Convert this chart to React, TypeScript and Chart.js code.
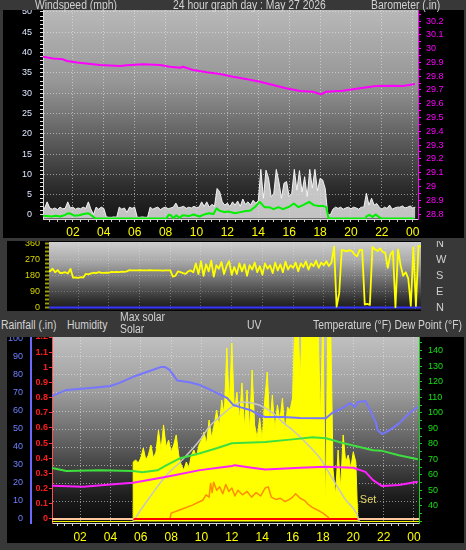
import React, { useEffect, useRef } from 'react';
import { Chart, registerables } from 'chart.js';

Chart.register(...registerables);

const SANS = "'Liberation Sans', Arial, sans-serif";
Chart.defaults.font.family = SANS;

// ---------------- shared ----------------
const hourLabels = ['02', '04', '06', '08', '10', '12', '14', '16', '18', '20', '22', '00'];
const sampleStep = 1 / 6; // 10-minute samples (hours)

// ---------------- top panel: wind + barometer ----------------
const windLabelTicks = [0, 5, 10, 15, 20, 25, 30, 35, 40, 45, 50];
const baroLabelTicks = [28.8, 28.9, 29, 29.1, 29.2, 29.3, 29.4, 29.5, 29.6, 29.7, 29.8, 29.9, 30, 30.1, 30.2];

const baroTimes = [0.06, 0.71, 1.36, 1.62, 2.27, 3.75, 5.05, 5.5, 6.54, 7.64, 8.28, 8.93, 9.13, 9.77, 10.68, 11.52, 12.36, 13.2, 14.11, 14.95, 15.79, 16.7, 17.54, 18.06, 18.38, 19.48, 20.58, 21.62, 22.72, 23.37, 24.14];
const baroValues = [29.941, 29.929, 29.922, 29.91, 29.9, 29.881, 29.874, 29.879, 29.886, 29.881, 29.868, 29.861, 29.868, 29.845, 29.828, 29.816, 29.796, 29.779, 29.76, 29.736, 29.712, 29.692, 29.687, 29.668, 29.687, 29.694, 29.712, 29.728, 29.731, 29.728, 29.743];

// gusts, every 10 minutes from 00:00 (mph)
const gustValues = [
  2.8, 2.5, 4.1, 2.6, 2.3, 2.6, 2.2, 2.8, 2.4, 2.5,
  4.1, 2.6, 2.8, 2.3, 2.6, 2.4, 2.8, 2.5, 4.1, 2.3,
  1.0, 2.8, 2.3, 2.8, 2.5, 0.4, 0.3, 0.3, 0.4, 0.3,
  2.8, 2.3, 2.6, 1.5, 2.8, 2.5, 2.8, 0.3, 0.3, 0.4,
  0.3, 0.3, 2.8, 2.3, 2.6, 2.8, 2.2, 2.6, 2.8, 2.4,
  2.6, 2.8, 3.8, 2.6, 2.8, 3.0, 2.5, 2.8, 2.6, 3.0,
  2.7, 2.8, 4.1, 3.0, 4.1, 2.8, 3.5, 3.0, 7.4, 6.6,
  4.1, 3.3, 3.8, 2.9, 4.1, 3.3, 4.3, 3.0, 4.8, 3.5,
  4.1, 3.3, 4.5, 3.8, 4.3, 12.1, 5.0, 11.9, 9.9, 5.4,
  6.0, 12.1, 9.1, 5.0, 8.7, 9.1, 5.4, 6.2, 12.1, 7.0,
  11.8, 6.5, 10.3, 5.4, 12.1, 7.5, 12.1, 6.8, 9.9, 9.5,
  7.4, 1.0, 0.9, 2.3, 2.8, 2.5, 2.8, 2.3, 2.6, 2.8,
  2.4, 2.8, 2.6, 2.3, 2.8, 2.8, 6.2, 3.3, 5.0, 3.3,
  3.7, 2.8, 2.3, 2.8, 2.5, 3.3, 2.3, 2.6, 2.8, 2.8,
  3.1, 2.6, 2.8, 3.1, 2.6, 2.8,
];

const windAvgTimes = [0.06, 0.3, 0.6, 0.9, 1.2, 1.5, 1.7, 1.9, 2.1, 2.4, 2.7, 3.0, 3.3, 3.45, 8.05, 8.2, 8.35, 8.5, 8.7, 8.9, 9.1, 9.5, 9.8, 10.2, 10.5, 10.8, 11.1, 11.3, 11.5, 11.8, 12.1, 12.5, 13.0, 13.5, 13.8, 14.1, 14.4, 14.7, 15.0, 15.3, 15.6, 16.0, 16.3, 16.6, 16.9, 17.3, 17.6, 17.9, 18.2, 18.4, 18.55, 20.95, 21.0, 21.2, 21.4, 21.6, 21.8, 22.0, 24.1];
const windAvgValues = [0.7, 0.6, 0.5, 0.7, 0.5, 0.9, 1.3, 1.1, 0.7, 0.8, 1.1, 1.3, 0.5, 0, 0, 0.9, 0.8, 0.1, 0.8, 0.1, 0.8, 0.6, 1.0, 0.5, 1.0, 1.3, 1.1, 2.5, 1.9, 1.6, 1.7, 1.3, 1.7, 2.0, 2.9, 4.1, 2.8, 2.8, 2.3, 2.8, 2.3, 2.9, 3.7, 2.8, 3.3, 4.1, 3.3, 3.1, 3.1, 2.8, 0, 0, 0.5, 0.9, 0.4, 1.0, 0.4, 0, 0];

// ---------------- middle panel: wind direction ----------------
const dirLabelTicks = [0, 90, 180, 270, 360];
const compassLabels = ['N', 'E', 'S', 'W', 'N'];
// degrees, every 10 minutes from 00:00
const dirValues = [
  214, 205, 220, 200, 212, 195, 197, 200, 193, 219,
  169, 170, 168, 172, 170, 191, 188, 193, 197, 195,
  200, 197, 196, 198, 197, 202, 200, 202, 201, 203,
  202, 205, 212, 210, 211, 210, 212, 211, 210, 210,
  212, 210, 211, 210, 210, 209, 210, 211, 210, 175,
  180, 205, 200, 195, 191, 205, 210, 200, 250, 190,
  262, 180, 245, 205, 265, 175, 240, 220, 258, 190,
  235, 262, 185, 230, 190, 250, 205, 245, 180, 240,
  215, 255, 200, 235, 185, 250, 220, 240, 195, 255,
  210, 245, 200, 260, 215, 240, 225, 255, 205, 250,
  230, 262, 215, 250, 235, 265, 225, 255, 240, 262,
  235, 255, 345, 5, 80, 326, 322, 318, 325, 320,
  300, 290, 326, 326, 17, 20, 15, 343, 330, 320,
  335, 315, 310, 225, 300, 320, 2, 330, 240, 180,
  200, 165, 10, 340, 8, 350, 345,
];

// ---------------- bottom panel ----------------
const humidityTicks = [0, 10, 20, 30, 40, 50, 60, 70, 80, 90, 100];
const rainTicks = [0, 0.1, 0.2, 0.3, 0.4, 0.5, 0.6, 0.7, 0.8, 0.9, 1, 1.1, 1.2];
const tempLabelTicks = [40, 50, 60, 70, 80, 90, 100, 110, 120, 130, 140];

const sunrise = 5.5;
const sunset = 20.3;

const humTimes = [0.15, 1.1, 2.7, 4.0, 4.6, 5.5, 6.4, 7.3, 7.6, 7.9, 8.4, 9.2, 9.9, 10.6, 11.7, 12.1, 12.6, 13.2, 13.8, 14.2, 15.4, 16.5, 18.2, 18.6, 19.3, 19.8, 20.1, 20.3, 20.8, 21.1, 21.5, 21.6, 21.9, 22.4, 23.0, 23.7, 24.25];
const humValues = [68.3, 71.7, 72.8, 73.9, 75.6, 79, 81.7, 84.4, 84.4, 82.8, 77, 76, 74.4, 71.7, 67.2, 63.3, 62, 60.6, 57.8, 56.7, 56.7, 56.1, 56, 58.9, 61.7, 64.4, 62.2, 65, 65.6, 60.6, 53.3, 49.4, 47.2, 49.4, 53, 58.9, 62.2];

const tempTimes = [0.15, 1.1, 3.3, 5.5, 6.1, 7.1, 7.7, 8.6, 9.9, 11.0, 12.0, 14.2, 16.0, 17.3, 18.2, 19.3, 20.2, 21.3, 21.9, 23.0, 24.25];
const tempValues = [64.4, 62.6, 63, 62.6, 61.8, 63, 66.3, 70.8, 74, 77.2, 80.4, 81.2, 82.9, 84.2, 83.6, 80.6, 78.5, 75.9, 75.5, 72.7, 70.1];

const dewTimes = [0.15, 2.2, 4.4, 5.5, 7.7, 9.9, 12.0, 12.2, 13.2, 14.2, 16.5, 18.2, 20.0, 20.8, 21.3, 21.9, 23.0, 24.25];
const dewValues = [53, 52.4, 54.1, 54.9, 58.8, 63.1, 65.8, 66.3, 64.8, 63.5, 64.6, 65.2, 64.6, 62, 56.7, 52.8, 53.5, 55.6];

const maxSolarTimes = [5.5, 6.0, 6.6, 7.7, 8.6, 9.9, 10.5, 11.2, 12.0, 12.7, 13.8, 14.7, 15.4, 16.0, 16.9, 17.8, 18.6, 19.5, 20.2, 20.4];
const maxSolarValues = [0, 75, 159, 302, 387, 530, 615, 680, 745, 777, 758, 706, 641, 595, 510, 413, 283, 140, 55, 0];

// solar radiation (W/m2), every 10 minutes from sunrise
const solarValues = [
  387, 400, 380, 413, 478, 400, 432, 497, 413, 452,
  595, 465, 628, 484, 530, 452, 497, 563, 432, 367,
  335, 387, 348, 432, 465, 419, 497, 530, 582, 504,
  660, 543, 628, 725, 608, 790, 693, 1128, 758, 1161,
  712, 842, 660, 901, 608, 855, 595, 985, 628, 543,
  673, 530, 790, 972, 628, 823, 595, 758, 660, 803,
  582, 745, 725, 803, 1350, 1350, 920, 1350, 1350, 1350,
  1350, 1350, 1350, 1350, 660, 1350, 75, 1350, 1350, 335,
  172, 465, 218, 563, 387, 432, 348, 452, 387,
];

const uvTimes = [7.9, 8.0, 8.6, 9.4, 10.1, 10.3, 10.5, 10.6, 10.7, 10.8, 11.0, 11.2, 11.4, 11.6, 11.8, 12.0, 12.2, 12.4, 12.7, 13.0, 13.3, 13.6, 13.9, 14.2, 14.4, 14.6, 14.9, 15.2, 15.5, 15.8, 16.0, 16.2, 16.5, 16.8, 17.0, 17.3, 17.6, 18.0, 18.3, 18.5];
const uvValues = [0, 0.6, 0.9, 1.3, 1.75, 2.2, 2.0, 3.2, 2.4, 3.3, 2.6, 2.9, 2.3, 3.1, 2.5, 2.8, 2.1, 2.6, 2.2, 2.5, 2.0, 2.4, 2.1, 2.8, 2.9, 2.0, 1.8, 1.9, 1.6, 1.8, 2.0, 2.3, 1.9, 1.7, 1.4, 1.1, 0.9, 0.6, 0.3, 0];

const rainTimes = [0, sunrise, sunset, 24.33];
const rainValues = [0, 0, 0, 0];
const sunMarkHeight = 9; // on the humidity scale

// ---------------- helpers ----------------
const TRANSPARENT = 'rgba(0,0,0,0)';
const GRID = 'rgba(236,236,236,0.55)';

const pairs = (xs: number[], ys: number[]) => xs.map((x, i) => ({ x, y: ys[i] }));
const sampled = (ys: number[], start: number) => ys.map((y, i) => ({ x: start + i * sampleStep, y }));

const setTicks = (values: number[]) => (s: any) => {
  s.ticks = values.map((v) => ({ value: v }));
};
const fixWidth = (w: number) => (s: any) => {
  s.width = w;
  s.paddingTop = 0; s.paddingBottom = 0; s.paddingLeft = 0; s.paddingRight = 0;
};
const fixHeight = (h: number) => (s: any) => {
  s.height = h;
  s.paddingTop = 0; s.paddingBottom = 0; s.paddingLeft = 0; s.paddingRight = 0;
};

const halfHours: number[] = [];
for (let h = 0.5; h <= 24; h += 0.5) halfHours.push(h);
const evenHours = hourLabels.map((_, i) => (i + 1) * 2);
const hourLabel = (v: number) => (v % 2 === 0 ? hourLabels[v / 2 - 1] : '');
const evenHourGrid = (color: string) => (c: any) => (c.tick && c.tick.value % 2 === 0 ? color : TRANSPARENT);

const windMinor: number[] = [];
for (let v = 0; v <= 50; v++) windMinor.push(v);
const baroMinor: number[] = [];
for (let k = 0; k <= 29; k++) baroMinor.push((2880 + 5 * k) / 100);
const dirMinor: number[] = [];
for (let k = 0; k <= 16; k++) dirMinor.push(k * 22.5);
const tempMinor: number[] = [];
for (let v = 30; v <= 145; v += 5) tempMinor.push(v);

const bgPlugin = {
  id: 'bgGradient',
  beforeDraw(chart: any, _args: any, opts: any) {
    const { ctx, chartArea: a } = chart;
    if (!a || !opts || !opts.stops) return;
    const g = ctx.createLinearGradient(0, a.top, 0, a.bottom);
    opts.stops.forEach((s: any) => g.addColorStop(s[0], s[1]));
    ctx.save();
    ctx.fillStyle = g;
    ctx.fillRect(a.left, a.top, a.right - a.left, a.bottom - a.top);
    ctx.restore();
  },
};

const sunsetLabelPlugin = {
  id: 'sunsetLabel',
  afterDatasetsDraw(chart: any) {
    const { ctx, scales } = chart;
    const x = scales.x.getPixelForValue(sunset);
    const y = scales.yh.getPixelForValue(sunMarkHeight);
    ctx.save();
    ctx.font = `11px ${SANS}`;
    ctx.fillStyle = '#e4d46a';
    ctx.textBaseline = 'alphabetic';
    ctx.fillText('Set', x + 2, y + 0.5);
    ctx.restore();
  },
};

const baseOptions = (stops: any[]) => ({
  animation: false,
  responsive: false,
  maintainAspectRatio: false,
  events: [],
  layout: { padding: 0, autoPadding: false },
  elements: { point: { radius: 0 }, line: { tension: 0, borderJoinStyle: 'round' } },
  plugins: { legend: { display: false }, tooltip: { enabled: false }, bgGradient: { stops } },
});

function topConfig(): any {
  return {
    type: 'line',
    data: {
      datasets: [
        { label: 'Barometer', yAxisID: 'yb', data: pairs(baroTimes, baroValues), borderColor: '#ff00ff', borderWidth: 2 },
        { label: 'Wind speed', yAxisID: 'ywd', data: pairs(windAvgTimes, windAvgValues), borderColor: '#00f000', borderWidth: 2 },
        {
          label: 'Gust', yAxisID: 'ywd', data: sampled(gustValues, 0),
          borderColor: 'rgba(248,248,248,0.95)', backgroundColor: 'rgba(226,226,226,0.85)', borderWidth: 1, fill: 'origin',
        },
      ],
    },
    options: {
      ...baseOptions([[0, '#b8b8b8'], [0.35, '#969696'], [0.6, '#616161'], [0.85, '#2c2c2c'], [1, '#151515']]),
      scales: {
        x: {
          type: 'linear', min: 0.065, max: 24.34,
          afterBuildTicks: setTicks(halfHours), afterFit: fixHeight(19),
          ticks: { callback: hourLabel, color: '#ffff00', font: { size: 12 }, padding: 3, autoSkip: false, maxRotation: 0 },
          grid: { color: evenHourGrid(GRID), tickColor: '#c8c8c8', tickLength: 3 },
          border: { color: '#d8d8d8', width: 1, dash: [1, 2] },
        },
        yw: {
          type: 'linear', position: 'left', min: -0.99, max: 50.49,
          afterBuildTicks: setTicks(windMinor), afterFit: fixWidth(40),
          ticks: {
            callback: (v: number) => (windLabelTicks.includes(v) ? String(v) : ''),
            color: '#dfe7ff', font: { size: 9 }, padding: 8, autoSkip: false,
          },
          grid: {
            color: (c: any) => (c.tick && c.tick.value > 0 && c.tick.value % 5 === 0 ? GRID : TRANSPARENT),
            tickColor: '#e0e0e0', tickLength: 3,
          },
          border: { color: '#d8d8d8', width: 1, dash: [1, 2] },
        },
        ywd: { type: 'linear', display: false, min: -0.12, max: 51.35 },
        yb: {
          type: 'linear', position: 'right', min: 28.764, max: 30.28,
          afterBuildTicks: setTicks(baroMinor), afterFit: fixWidth(46),
          ticks: {
            callback: (v: number) => {
              const hit = baroLabelTicks.find((b) => Math.abs(b - v) < 1e-6);
              return hit === undefined ? '' : String(hit);
            },
            color: '#ff00ff', font: { size: 9 }, padding: 5, autoSkip: false,
          },
          grid: { drawOnChartArea: false, tickColor: '#ff00ff', tickLength: 3 },
          border: { color: '#ff00ff', width: 1 },
        },
      },
    },
    plugins: [bgPlugin],
  };
}

function middleConfig(): any {
  return {
    type: 'line',
    data: {
      datasets: [
        { label: 'Direction', yAxisID: 'yd', data: sampled(dirValues, 0), borderColor: '#ffff00', borderWidth: 1.8 },
        { label: 'Base', yAxisID: 'yd', data: [{ x: 0, y: 0 }, { x: 24.33, y: 0 }], borderColor: '#3535ff', borderWidth: 2 },
      ],
    },
    options: {
      ...baseOptions([[0, '#d0d0d0'], [0.3, '#a6a6a6'], [0.6, '#666666'], [0.85, '#303030'], [1, '#1a1a1a']]),
      layout: { padding: { top: 1, left: 0, right: 0, bottom: 0 }, autoPadding: false },
      scales: {
        x: {
          type: 'linear', min: 0.1, max: 24.33,
          afterBuildTicks: setTicks(evenHours), afterFit: fixHeight(1),
          ticks: { display: false },
          grid: { color: 'rgba(255,255,255,0.28)', drawTicks: false },
          border: { display: false, dash: [1, 2] },
        },
        yd: {
          type: 'linear', position: 'left', min: -14.2, max: 371.3,
          afterBuildTicks: setTicks(dirMinor), afterFit: fixWidth(42),
          ticks: {
            callback: (v: number) => (dirLabelTicks.includes(v) ? String(v) : ''),
            color: '#d6d600', font: { size: 9 }, padding: 5, autoSkip: false,
          },
          grid: {
            color: (c: any) => (c.tick && c.tick.value > 0 && c.tick.value < 360 && c.tick.value % 90 === 0 ? 'rgba(255,255,255,0.22)' : TRANSPARENT),
            tickColor: '#9c9c00', tickLength: 4, tickWidth: 2,
          },
          border: { display: false, dash: [1, 2] },
        },
        yc: {
          type: 'linear', position: 'right', min: -14.2, max: 371.3,
          afterBuildTicks: setTicks(dirLabelTicks), afterFit: fixWidth(45),
          ticks: {
            callback: (v: number) => compassLabels[dirLabelTicks.indexOf(v)],
            color: '#cfcfcf', font: { size: 11 }, padding: 15, autoSkip: false,
          },
          grid: { drawOnChartArea: false, drawTicks: false },
          border: { display: false },
        },
      },
    },
    plugins: [bgPlugin],
  };
}

function bottomConfig(): any {
  const sunMarks = [
    { x: sunrise, y: 0 }, { x: sunrise, y: sunMarkHeight }, { x: sunrise, y: null },
    { x: sunset, y: 0 }, { x: sunset, y: sunMarkHeight },
  ];
  const solarData = [
    { x: 0, y: 0 }, { x: sunrise - 0.01, y: 0 },
    ...sampled(solarValues, sunrise),
    { x: sunset, y: 0 }, { x: 24.33, y: 0 },
  ];
  return {
    type: 'line',
    data: {
      datasets: [
        { label: 'Sun', yAxisID: 'yh', data: sunMarks, borderColor: '#e8e800', borderWidth: 1, borderDash: [1, 1] },
        {
          label: 'Rain', yAxisID: 'yr', data: pairs(rainTimes, rainValues), borderWidth: 2, borderColor: '#ff0000',
          segment: { borderColor: (c: any) => (c.p0DataIndex === 1 ? '#ff0000' : '#ffc8a0') },
        },
        { label: 'Dew point', yAxisID: 'yt', data: pairs(dewTimes, dewValues), borderColor: '#ff20ff', borderWidth: 2 },
        { label: 'Temperature', yAxisID: 'yt', data: pairs(tempTimes, tempValues), borderColor: '#3ee03e', borderWidth: 2 },
        { label: 'Humidity', yAxisID: 'yh', data: pairs(humTimes, humValues), borderColor: '#7676ff', borderWidth: 2 },
        { label: 'UV', yAxisID: 'yu', data: pairs(uvTimes, uvValues), borderColor: '#ff8c00', borderWidth: 1.5 },
        { label: 'Max solar', yAxisID: 'ys', data: pairs(maxSolarTimes, maxSolarValues), borderColor: '#c6c6c6', borderWidth: 1.5, cubicInterpolationMode: 'monotone' },
        {
          label: 'Solar', yAxisID: 'ys', data: solarData, borderColor: '#ffff00', backgroundColor: '#ffff00',
          borderWidth: 1, fill: 'origin',
        },
      ],
    },
    options: {
      ...baseOptions([[0, '#c0c0c0'], [0.3, '#9c9c9c'], [0.6, '#595959'], [0.85, '#1e1e1e'], [1, '#0a0a0a']]),
      scales: {
        x: {
          type: 'linear', min: 0.15, max: 24.33,
          afterBuildTicks: setTicks(halfHours), afterFit: fixHeight(20),
          ticks: { callback: hourLabel, color: '#ffff00', font: { size: 12 }, padding: 4, autoSkip: false, maxRotation: 0 },
          grid: { color: evenHourGrid(GRID), tickColor: '#c8c8c8', tickLength: 3 },
          border: { color: '#d8d8d8', width: 1, dash: [1, 2] },
        },
        yh: {
          type: 'linear', position: 'left', weight: 2, min: -2.22, max: 101.11,
          afterBuildTicks: setTicks(humidityTicks), afterFit: fixWidth(24),
          ticks: { color: '#7080ff', font: { size: 9 }, padding: 8, autoSkip: false, callback: (v: number) => String(v) },
          grid: {
            color: (c: any) => (c.tick && c.tick.value > 0 && c.tick.value < 100 ? GRID : TRANSPARENT),
            drawTicks: false,
          },
          border: { color: '#6a6aff', width: 2, dash: [1, 2] },
        },
        yr: {
          type: 'linear', position: 'left', weight: 1, min: -0.0264, max: 1.2,
          afterBuildTicks: setTicks(rainTicks), afterFit: fixWidth(21),
          ticks: { color: '#ff1c1c', font: { size: 9, weight: 'bold' }, padding: 1, autoSkip: false, callback: (v: number) => String(v) },
          grid: { drawOnChartArea: false, tickColor: '#ff3030', tickLength: 3 },
          border: { color: '#ff5050', width: 1 },
        },
        yt: {
          type: 'linear', position: 'right', min: 29.05, max: 148.82,
          afterBuildTicks: setTicks(tempMinor), afterFit: fixWidth(45),
          ticks: {
            callback: (v: number) => (tempLabelTicks.includes(v) ? String(v) : ''),
            color: '#18e018', font: { size: 9 }, padding: 6, autoSkip: false,
          },
          grid: { drawOnChartArea: false, tickColor: '#18d018', tickLength: 3 },
          border: { color: '#18d018', width: 1 },
        },
        ys: { type: 'linear', display: false, min: -10, max: 1200 },
        yu: { type: 'linear', display: false, min: -0.262, max: 16 },
      },
    },
    plugins: [bgPlugin, sunsetLabelPlugin],
  };
}

const Label = ({ text, left, top }: { text: string; left: number; top: number }) => (
  <div
    style={{
      position: 'absolute', left, top, fontSize: '12.5px', lineHeight: '12px', color: '#d2d2d2',
      whiteSpace: 'nowrap', transform: 'scaleX(0.83)', transformOrigin: '0 0',
    }}
  >
    {text}
  </div>
);

export default function App() {
  const topRef = useRef<HTMLCanvasElement>(null);
  const midRef = useRef<HTMLCanvasElement>(null);
  const botRef = useRef<HTMLCanvasElement>(null);

  useEffect(() => {
    const charts = [
      new Chart(topRef.current as HTMLCanvasElement, topConfig()),
      new Chart(midRef.current as HTMLCanvasElement, middleConfig()),
      new Chart(botRef.current as HTMLCanvasElement, bottomConfig()),
    ];
    return () => charts.forEach((c) => c.destroy());
  }, []);

  return (
    <div style={{ position: 'fixed', left: 0, top: 0, width: 466, height: 550, background: '#383838', overflow: 'hidden', fontFamily: SANS }}>
      <div style={{ position: 'absolute', left: 3, top: 10, width: 461, height: 228, background: '#000' }} />
      <div style={{ position: 'absolute', left: 7, top: 241, width: 414, height: 70, background: '#000' }} />
      <div style={{ position: 'absolute', left: 7, top: 337, width: 457, height: 206, background: '#000' }} />

      <canvas ref={topRef} width={461} height={228} style={{ position: 'absolute', left: 3, top: 10 }} />
      <canvas ref={midRef} width={459} height={70} style={{ position: 'absolute', left: 7, top: 241 }} />
      <canvas ref={botRef} width={457} height={206} style={{ position: 'absolute', left: 7, top: 337 }} />

      <Label text="Windspeed (mph)" left={35} top={-1} />
      <Label text="24 hour graph day : May 27 2026" left={173} top={-1} />
      <Label text="Barometer (.in)" left={371} top={-1} />

      <Label text="Rainfall (.in)" left={1} top={318.5} />
      <Label text="Humidity" left={67} top={318.5} />
      <Label text="Max solar" left={120} top={310.8} />
      <Label text="Solar" left={120} top={322.5} />
      <Label text="UV" left={247} top={318.5} />
      <Label text="Temperature (°F) Dew Point (°F)" left={313} top={318.5} />
    </div>
  );
}
